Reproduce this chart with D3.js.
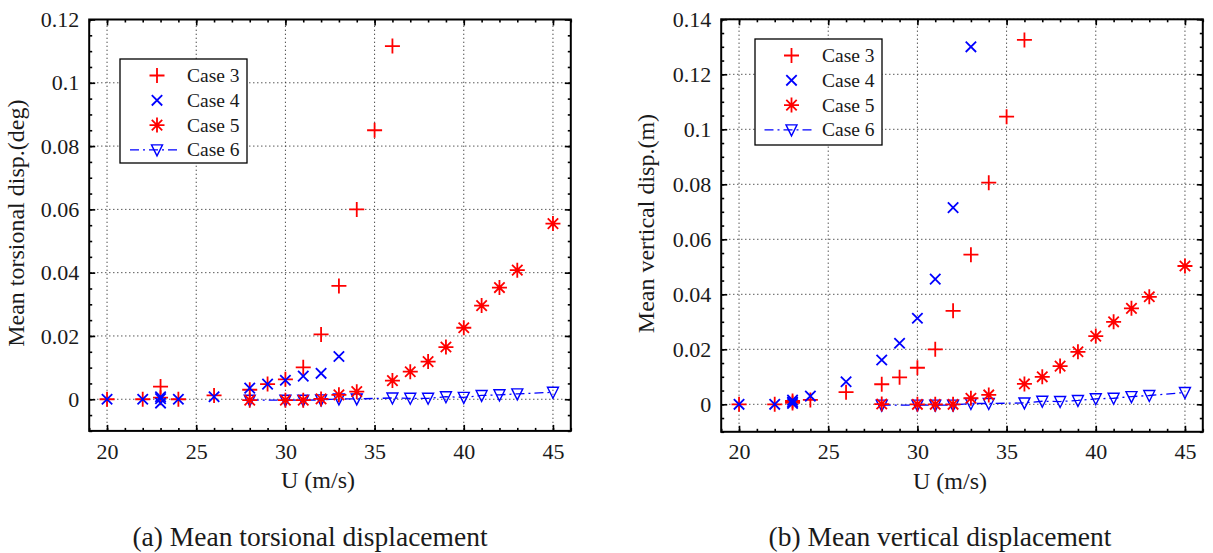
<!DOCTYPE html>
<html><head><meta charset="utf-8">
<script src="https://cdn.jsdelivr.net/npm/d3@7"></script>
<style>body{margin:0;background:#fff}text{font-family:"Liberation Serif","Times New Roman",serif;fill:#1a1a1a}</style>
</head><body><svg id="c" width="1213" height="553"></svg>
<script>
// ---- data ----
const uTicks = [20, 25, 30, 35, 40, 45];
const torsTicks = [0, 0.02, 0.04, 0.06, 0.08, 0.1, 0.12];
const vertTicks = [0, 0.02, 0.04, 0.06, 0.08, 0.1, 0.12, 0.14];
const caseNames = ["Case 3", "Case 4", "Case 5", "Case 6"];

// (a) torsional
const uCase3T = [20, 22, 23, 23, 24, 26, 28, 29, 30, 31, 32, 33, 34, 35, 36];
const case3T  = [0, 0, 0.004, 0.0005, 0, 0.0012, 0.003, 0.0048, 0.0063, 0.0101, 0.0205, 0.0358, 0.06, 0.085, 0.1116];
const uCase4T = [20, 22, 23, 23, 23, 24, 26, 28, 29, 30, 31, 32, 33];
const case4T  = [0, 0, 0.0008, -0.0012, 0.0002, 0, 0.0008, 0.0035, 0.0048, 0.006, 0.0073, 0.0082, 0.0135];
const uCase5T = [28, 30, 31, 32, 33, 34, 36, 37, 38, 39, 40, 41, 42, 43, 45];
const case5T  = [-0.0003, -0.0003, -0.0003, 0.0001, 0.0014, 0.0024, 0.0059, 0.0087, 0.0119, 0.0165, 0.0226, 0.0296, 0.0353, 0.0408, 0.0555];
const uCase6T = [28, 30, 31, 32, 33, 34, 36, 37, 38, 39, 40, 41, 42, 43, 45];
const case6T  = [-0.0003, -0.0003, -0.0003, -0.0002, 0.0001, 0.0001, 0.0004, 0.0003, 0.0003, 0.0008, 0.0006, 0.0012, 0.0014, 0.0017, 0.0022];

// (b) vertical
const uCase3V = [20, 22, 23, 23, 24, 26, 28, 29, 30, 31, 32, 33, 34, 35, 36];
const case3V  = [0, 0, 0.0012, 0.0005, 0.0016, 0.0044, 0.0073, 0.0098, 0.0133, 0.02, 0.034, 0.0544, 0.0806, 0.1046, 0.1325];
const uCase4V = [20, 22, 23, 23, 23, 24, 26, 28, 29, 30, 31, 32, 33];
const case4V  = [0, 0, 0.0015, 0.0008, 0.0003, 0.003, 0.0082, 0.0161, 0.0222, 0.0313, 0.0455, 0.0715, 0.13];
const uCase5V = [28, 30, 31, 32, 33, 34, 36, 37, 38, 39, 40, 41, 42, 43, 45];
const case5V  = [0.0001, 0, 0, 0, 0.0022, 0.0034, 0.0074, 0.01, 0.0139, 0.0191, 0.0248, 0.03, 0.0349, 0.0391, 0.0503];
const uCase6V = [28, 30, 31, 32, 33, 34, 36, 37, 38, 39, 40, 41, 42, 43, 45];
const case6V  = [-0.0003, -0.0003, -0.0003, -0.0003, 0.0003, 0.0003, 0.0005, 0.0011, 0.001, 0.0014, 0.002, 0.0022, 0.0028, 0.0032, 0.0043];

const RED = "#ff0000", BLUE = "#0000ff";
const FONT = "'Liberation Serif', 'Times New Roman', serif";
const svg = d3.select("#c");

function marker(g, type, x, y, color) {
  let d = "";
  if (type === "plus") { const s = 7.5; d = `M${x-s},${y}H${x+s}M${x},${y-s}V${y+s}`; }
  else if (type === "cross") { const s = 5.2; d = `M${x-s},${y-s}L${x+s},${y+s}M${x-s},${y+s}L${x+s},${y-s}`; }
  else if (type === "star") { const s = 7.5, t = 5.2; d = `M${x-s},${y}H${x+s}M${x},${y-s}V${y+s}M${x-t},${y-t}L${x+t},${y+t}M${x-t},${y+t}L${x+t},${y-t}`; }
  else if (type === "tri") { const w = 5.5, h = 5; d = `M${x-w},${y-h}H${x+w}L${x},${y+h+1}Z`; }
  g.append("path").attr("d", d).attr("fill", "none").attr("stroke", color)
    .attr("stroke-width", type === "tri" ? 1.4 : 1.8);
}

function panel(opt) {
  const x = d3.scaleLinear().domain([19, 46]).range([opt.x0, opt.x1]);
  const y = d3.scaleLinear().domain([-0.01, opt.ymax]).range([opt.yb, opt.yt]);
  const g = svg.append("g");
  // grid
  g.selectAll(".gx").data(uTicks).join("line")
    .attr("x1", d => x(d)).attr("x2", d => x(d)).attr("y1", opt.yb).attr("y2", opt.yt)
    .attr("stroke", "#333").attr("stroke-width", 1).attr("stroke-dasharray", "1.2,2.8");
  g.selectAll(".gy").data(opt.yTicks).join("line")
    .attr("x1", opt.x0).attr("x2", opt.x1).attr("y1", d => y(d)).attr("y2", d => y(d))
    .attr("stroke", "#333").attr("stroke-width", 1).attr("stroke-dasharray", "1.2,2.8");
  // axes with inward ticks
  const minorX = d3.range(19, 47, 1), minorY = d3.range(-0.01, opt.ymax + 0.0001, 0.005);
  const axB = d3.axisBottom(x).tickValues(minorX).tickSize(-3).tickFormat("");
  const axT = d3.axisTop(x).tickValues(minorX).tickSize(-3).tickFormat("");
  const axL = d3.axisLeft(y).tickValues(minorY).tickSize(-3).tickFormat("");
  const axR = d3.axisRight(y).tickValues(minorY).tickSize(-3).tickFormat("");
  g.append("g").attr("transform", `translate(0,${opt.yb})`).call(axB);
  g.append("g").attr("transform", `translate(0,${opt.yt})`).call(axT);
  g.append("g").attr("transform", `translate(${opt.x0},0)`).call(axL);
  g.append("g").attr("transform", `translate(${opt.x1},0)`).call(axR);
  const MB = d3.axisBottom(x).tickValues(uTicks).tickSize(-6).tickPadding(12).tickFormat(d3.format("d"));
  const MT = d3.axisTop(x).tickValues(uTicks).tickSize(-6).tickFormat("");
  const ML = d3.axisLeft(y).tickValues(opt.yTicks).tickSize(-6).tickPadding(10).tickFormat(d => d === 0 ? "0" : String(+d.toFixed(2)));
  const MR = d3.axisRight(y).tickValues(opt.yTicks).tickSize(-6).tickFormat("");
  g.append("g").attr("class", "xa").attr("transform", `translate(0,${opt.yb})`).call(MB);
  g.append("g").attr("transform", `translate(0,${opt.yt})`).call(MT);
  g.append("g").attr("class", "ya").attr("transform", `translate(${opt.x0},0)`).call(ML);
  g.append("g").attr("transform", `translate(${opt.x1},0)`).call(MR);
  g.selectAll(".domain").remove();
  g.selectAll("g").attr("font-family", FONT).attr("font-size", 22);
  g.selectAll(".tick line").attr("stroke", "#000").attr("stroke-width", 1.6);
  g.selectAll(".tick text").style("font-size", "22px").style("font-family", FONT).attr("fill", "#1a1a1a");
  g.append("rect").attr("x", opt.x0).attr("y", opt.yt).attr("width", opt.x1 - opt.x0).attr("height", opt.yb - opt.yt)
    .attr("fill", "none").attr("stroke", "#000").attr("stroke-width", 2);

  // case 6 line
  const s6 = opt.u6.map((u, i) => [u, opt.c6[i]]);
  g.append("path").attr("d", d3.line().x(d => x(d[0])).y(d => y(d[1]))(s6))
    .attr("fill", "none").attr("stroke", BLUE).attr("stroke-width", 1.3).attr("stroke-dasharray", "9,4,2,4");
  opt.u6.forEach((u, i) => marker(g, "tri", x(u), y(opt.c6[i]), BLUE));
  opt.u5.forEach((u, i) => marker(g, "star", x(u), y(opt.c5[i]), RED));
  opt.u3.forEach((u, i) => marker(g, "plus", x(u), y(opt.c3[i]), RED));
  opt.u4.forEach((u, i) => marker(g, "cross", x(u), y(opt.c4[i]), BLUE));

  // labels
  g.append("text").attr("x", (opt.x0 + opt.x1) / 2 - 12).attr("y", opt.yb + 57).attr("text-anchor", "middle")
    .style("font-size", "24px").text("U (m/s)");
  g.append("text").attr("transform", `translate(${opt.ylx},${(opt.yt + opt.yb) / 2 - 2}) rotate(-90)`)
    .attr("text-anchor", "middle").style("font-size", "24px").text(opt.ylabel);
  g.append("text").attr("x", opt.capx).attr("y", 546).attr("text-anchor", "middle")
    .style("font-size", "27.5px").text(opt.caption);

  // legend
  const L = opt.leg;
  g.append("rect").attr("x", L.x).attr("y", L.y).attr("width", L.w).attr("height", L.h)
    .attr("fill", "#fff").attr("stroke", "#000").attr("stroke-width", 1.3);
  const types = ["plus", "cross", "star", "tri"], cols = [RED, BLUE, RED, BLUE];
  caseNames.forEach((nm, i) => {
    const ry = L.y + 16.5 + i * 24.8;
    if (i === 3) {
      g.append("line").attr("x1", L.mx - 27).attr("x2", L.mx + 23).attr("y1", ry).attr("y2", ry)
        .attr("stroke", BLUE).attr("stroke-width", 1.3).attr("stroke-dasharray", "9,4,2,4");
    }
    marker(g, types[i], L.mx, ry, cols[i]);
    g.append("text").attr("x", L.tx).attr("y", ry + 6.5).style("font-size", "19.5px").text(nm);
  });
}

panel({x0: 89.2, x1: 570.8, yt: 19.5, yb: 430.9, ymax: 0.12, yTicks: torsTicks,
  u3: uCase3T, c3: case3T, u4: uCase4T, c4: case4T, u5: uCase5T, c5: case5T, u6: uCase6T, c6: case6T,
  ylabel: "Mean torsional disp.(deg)", ylx: 24, caption: "(a) Mean torsional displacement", capx: 310,
  leg: {x: 120, y: 59, w: 127, h: 104, mx: 157, tx: 187}});
panel({x0: 721.2, x1: 1202.8, yt: 19.3, yb: 431.8, ymax: 0.14, yTicks: vertTicks,
  u3: uCase3V, c3: case3V, u4: uCase4V, c4: case4V, u5: uCase5V, c5: case5V, u6: uCase6V, c6: case6V,
  ylabel: "Mean vertical disp.(m)", ylx: 654, caption: "(b) Mean vertical displacement", capx: 940,
  leg: {x: 755, y: 39, w: 127, h: 106, mx: 791.5, tx: 822}});
</script></body></html>
